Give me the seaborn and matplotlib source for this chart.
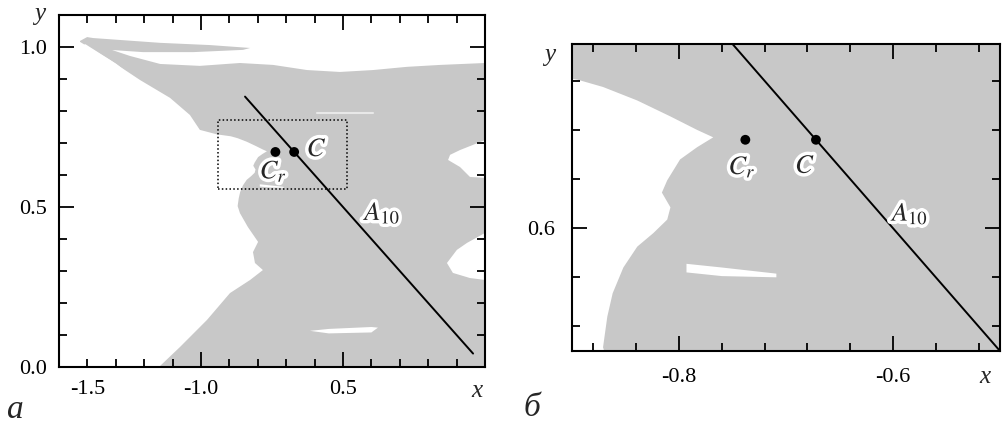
import numpy as np
import matplotlib
matplotlib.use("Agg")
import matplotlib.pyplot as plt
import matplotlib.patheffects as pe
from matplotlib.ticker import FixedLocator, FixedFormatter, NullFormatter
import seaborn as sns

# ---- data -------------------------------------------------------------
# outline of the shaded (bounded) region, (x, y) vertices
region_x = [-1.426, -1.401, -1.380, -1.144, -0.968, -0.827,
            -0.852, -1.028, -1.204, -1.320, -1.345,
            -1.250, -1.144, -1.004, -0.863, -0.746, -0.627, -0.511, -0.394, -0.275, -0.158, 0.0,
            0.0, -0.088, -0.123, -0.130, -0.088, -0.053, 0.0,
            0.0, -0.063, -0.099, -0.134, -0.113, -0.053, 0.0,
            0.0, -1.148,
            -1.074, -0.979, -0.898, -0.827, -0.782, -0.810, -0.817, -0.799, -0.835, -0.863,
            -0.871, -0.867, -0.862, -0.852, -0.839, -0.824, -0.811, -0.808, -0.816, -0.811,
            -0.799, -0.783, -0.768, -0.783, -0.808, -0.839, -0.871, -0.895, -0.944, -1.004,
            -1.039, -1.109, -1.215, -1.320, -1.426]
region_y = [1.019, 1.031, 1.028, 1.013, 1.006, 0.997,
            0.991, 0.984, 0.984, 0.991, 1.000,
            0.972, 0.947, 0.941, 0.950, 0.944, 0.928, 0.922, 0.928, 0.938, 0.944, 0.950,
            0.709, 0.678, 0.663, 0.647, 0.625, 0.594, 0.591,
            0.419, 0.388, 0.366, 0.325, 0.294, 0.278, 0.272,
            0.0, 0.0,
            0.0625, 0.147, 0.231, 0.272, 0.303, 0.325, 0.359, 0.391, 0.4375, 0.481,
            0.503, 0.528, 0.547, 0.568, 0.585, 0.596, 0.607, 0.617, 0.629, 0.639,
            0.656, 0.666, 0.674, 0.680, 0.691, 0.704, 0.715, 0.721, 0.727, 0.741,
            0.7875, 0.841, 0.897, 0.959, 1.016]

# narrow gaps inside the shaded region
gap_low_x = [-0.616, -0.55, -0.40, -0.377, -0.40, -0.55]
gap_low_y = [0.113, 0.119, 0.125, 0.123, 0.108, 0.105]
gap_mid_x = [-0.793, -0.760, -0.709, -0.709, -0.760, -0.793]
gap_mid_y = [0.571, 0.568, 0.563, 0.560, 0.561, 0.564]
gap_top_x = [-0.592, -0.394]
gap_top_y = [0.794, 0.794]
fissure_x = [-1.408, -1.300, -1.225]
fissure_y = [1.006, 0.945, 0.891]

# the A10 line and the two marked points
a10_x = [-0.845, -0.042]
a10_y = [0.845, 0.042]
pts_x = [-0.738, -0.672]
pts_y = [0.672, 0.672]

# zoom window drawn on the overview panel
window_x = [-0.939, -0.487]
window_y = [0.556, 0.772]

# ---- style ------------------------------------------------------------
sns.set_theme(style="ticks")
plt.rcParams["font.family"] = ["Liberation Serif", "DejaVu Serif"]
plt.rcParams["mathtext.fontset"] = "stix"
plt.rcParams["axes.linewidth"] = 1.5
plt.rcParams["axes.edgecolor"] = "black"
plt.rcParams["axes.axisbelow"] = False
plt.rcParams["xtick.direction"] = "in"
plt.rcParams["ytick.direction"] = "in"
plt.rcParams["xtick.top"] = True
plt.rcParams["ytick.right"] = True
plt.rcParams["xtick.color"] = "black"
plt.rcParams["ytick.color"] = "black"

SHADE = "#c8c8c8"
FS = 16
halo = [pe.withStroke(linewidth=5, foreground="white")]

fig = plt.figure(figsize=(10.04, 4.26), dpi=100)
ax1 = fig.add_axes([59 / 1004, 1 - 367 / 426, 426 / 1004, 352 / 426])
ax2 = fig.add_axes([572 / 1004, 1 - 351 / 426, 428 / 1004, 307 / 426])


def draw_region(ax):
    ax.fill(region_x, region_y, color=SHADE, lw=0, zorder=1)
    ax.fill(gap_low_x, gap_low_y, color="white", lw=0, zorder=1.2)
    ax.fill(gap_mid_x, gap_mid_y, color="white", lw=0, zorder=1.2)
    ax.plot(gap_top_x, gap_top_y, color="white", lw=1.5, alpha=0.6, zorder=1.2)
    ax.plot(fissure_x, fissure_y, color="white", lw=1.3, zorder=1.2)
    sns.lineplot(x=a10_x, y=a10_y, sort=False, color="black", lw=1.4, ax=ax, zorder=4)
    sns.scatterplot(x=pts_x, y=pts_y, color="black", s=50, edgecolor="none", ax=ax, zorder=5)


def style_axes(ax, pad):
    ax.set_axisbelow(False)
    ax.xaxis.set_ticks_position("both")
    ax.yaxis.set_ticks_position("both")
    ax.tick_params(which="both", direction="in", top=True, right=True,
                   bottom=True, left=True, width=1.3, labelsize=FS, pad=pad,
                   color="black")
    ax.tick_params(which="major", length=11)
    ax.tick_params(which="minor", length=6)
    for s in ax.spines.values():
        s.set_visible(True)
        s.set_linewidth(1.5)
        s.set_zorder(6)


# ---- panel a ----------------------------------------------------------
draw_region(ax1)
ax1.set_xlim(-1.5, 0.0)
ax1.set_ylim(0.0, 1.1)
ax1.xaxis.set_major_locator(FixedLocator([-1.0, -0.5]))
ax1.xaxis.set_major_formatter(FixedFormatter(["-1.0", "0.5"]))
xminor = [-1.4, -1.3, -1.2, -1.1, -0.9, -0.8, -0.7, -0.6, -0.4, -0.3, -0.2, -0.1]
ax1.xaxis.set_minor_locator(FixedLocator(xminor))
ax1.xaxis.set_minor_formatter(FixedFormatter(["-1.5"] + [""] * (len(xminor) - 1)))
ax1.yaxis.set_major_locator(FixedLocator([0.0, 0.5, 1.0]))
ax1.yaxis.set_major_formatter(FixedFormatter(["0.0", "0.5", "1.0"]))
ax1.yaxis.set_minor_locator(FixedLocator([0.1, 0.2, 0.3, 0.4, 0.6, 0.7, 0.8, 0.9]))
ax1.yaxis.set_minor_formatter(NullFormatter())
style_axes(ax1, 9)
ax1.set_xlabel("")
ax1.set_ylabel("")

ax1.plot([window_x[0], window_x[1], window_x[1], window_x[0], window_x[0]],
         [window_y[0], window_y[0], window_y[1], window_y[1], window_y[0]],
         color="black", lw=1.1, ls=(0, (1, 1.5)), zorder=3)

ax1.text(-0.592, 0.678, r"$C$", fontsize=19, ha="center", va="center",
         path_effects=halo, zorder=6)
ax1.text(-0.745, 0.612, r"$C_r$", fontsize=19, ha="center", va="center",
         path_effects=halo, zorder=6)
ax1.text(-0.425, 0.482, r"$A_{10}$", fontsize=19, ha="left", va="center",
         path_effects=halo, zorder=6)

# ---- panel б ----------------------------------------------------------
draw_region(ax2)
ax2.set_xlim(-0.9, -0.5)
ax2.set_ylim(0.5, 0.75)
ax2.xaxis.set_major_locator(FixedLocator([-0.8, -0.6]))
ax2.xaxis.set_major_formatter(FixedFormatter(["-0.8", "-0.6"]))
ax2.xaxis.set_minor_locator(FixedLocator([-0.88, -0.84, -0.76, -0.72, -0.68, -0.64, -0.56, -0.52]))
ax2.xaxis.set_minor_formatter(NullFormatter())
ax2.yaxis.set_major_locator(FixedLocator([0.6]))
ax2.yaxis.set_major_formatter(FixedFormatter(["0.6"]))
ax2.yaxis.set_minor_locator(FixedLocator([0.52, 0.56, 0.64, 0.68, 0.72]))
ax2.yaxis.set_minor_formatter(NullFormatter())
style_axes(ax2, 12)
ax2.set_xlabel("")
ax2.set_ylabel("")

ax2.text(-0.741, 0.650, r"$C_r$", fontsize=19, ha="center", va="center",
         path_effects=halo, zorder=6)
ax2.text(-0.682, 0.650, r"$C$", fontsize=19, ha="center", va="center",
         path_effects=halo, zorder=6)
ax2.text(-0.601, 0.612, r"$A_{10}$", fontsize=19, ha="left", va="center",
         path_effects=halo, zorder=6)

# ---- axis names and panel letters --------------------------------------
def fig_text(px, py, s, size):
    fig.text(px / 1004, 1 - py / 426, s, fontsize=size, style="italic",
             ha="center", va="center")

fig_text(40, 14, "y", 18)
fig_text(477, 391, "x", 18)
fig_text(15, 410, "a", 24)
fig_text(550, 55, "y", 18)
fig_text(985, 377, "x", 18)
fig_text(532, 408, "б", 24)

fig.savefig("out.png", dpi=100)
